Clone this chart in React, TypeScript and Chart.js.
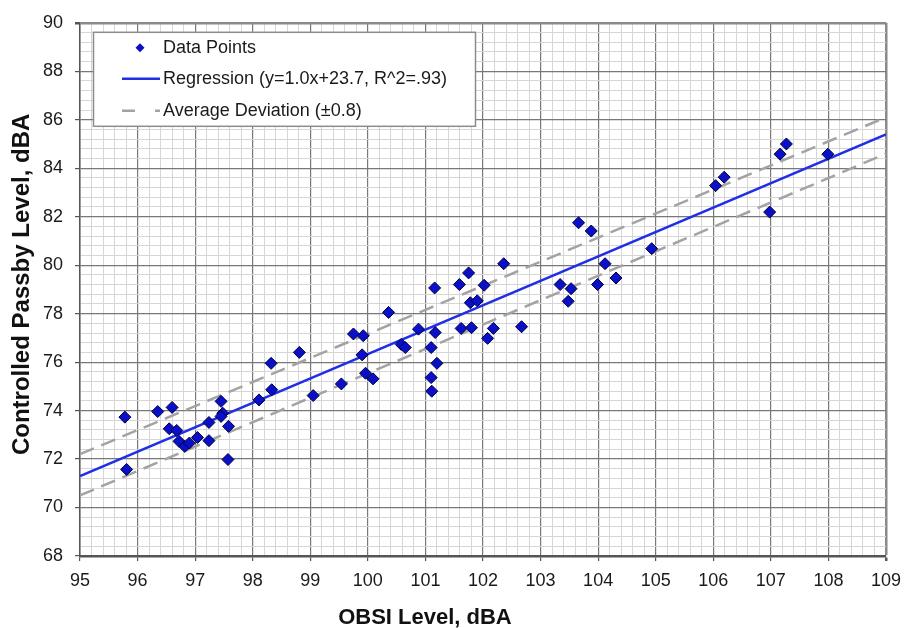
import React, { useEffect, useRef } from "react";
import { Chart, registerables } from "chart.js";

Chart.register(...registerables);

// ---- data ----
const obsiLevel = [
  95.78, 95.81, 96.35, 96.6, 96.55, 96.68, 96.72, 96.82, 96.9, 97.04,
  97.24, 97.24, 97.45, 97.48, 97.45, 97.58, 97.57, 98.11, 98.33, 98.32,
  98.81, 99.05, 99.54, 99.75, 99.92, 99.9, 99.96, 100.09, 100.36, 100.88,
  100.58, 100.65, 101.16, 101.1, 101.1, 101.11, 101.17, 101.2, 101.59, 101.75,
  102.02, 101.78, 101.9, 101.62, 101.8, 102.18, 102.08, 102.36, 102.67, 103.34,
  103.53, 103.48, 103.99, 104.12, 104.31, 103.66, 103.88, 104.93, 106.04, 106.19,
  107.16, 107.27, 107.99, 106.98,
];
const passbyLevel = [
  73.73, 71.57, 73.96, 74.13, 73.25, 73.18, 72.73, 72.52, 72.66, 72.89,
  72.76, 73.51, 74.38, 73.89, 73.76, 73.35, 71.98, 74.44, 74.86, 75.95,
  76.4, 74.62, 75.1, 77.16, 77.09, 76.3, 75.54, 75.31, 78.05, 77.36,
  76.73, 76.6, 79.06, 76.6, 75.36, 74.8, 77.22, 75.95, 79.2, 79.68,
  79.17, 78.45, 78.53, 77.39, 77.42, 77.39, 76.98, 80.06, 77.46, 79.2,
  79.03, 78.51, 79.2, 80.06, 79.47, 81.75, 81.41, 80.68, 83.28, 83.63,
  84.58, 85.0, 84.58, 82.19,
];
const regressionX = [95, 109];
const regressionY = [71.3, 85.4];
const upperDeviationY = [72.2, 86.1];
const lowerDeviationY = [70.5, 84.6];

const xRange = [95, 109];
const yRange = [68, 90];
const xMinorStep = 0.2;
const yMinorStep = 0.4;
const yLabelEvery = 2;

const legendLabels = [
  "Data Points",
  "Regression (y=1.0x+23.7, R^2=.93)",
  "Average Deviation (\u00b10.8)",
];
const xTitle = "OBSI Level, dBA";
const yTitle = "Controlled Passby Level, dBA";

// ---- styles ----
const FONT = "'Liberation Sans', Arial, sans-serif";
const POINT_FILL = "#0a10c8";
const POINT_BORDER = "#00003c";
const REG_COLOR = "#1f2fe6";
const DEV_COLOR = "#a3a3a3";
const MAJOR_GRID = "#787878";
const MINOR_GRID = "#d6d6d6";

const near = (v: number, t: number) => Math.abs(v - t) < 1e-6;
const isMajorX = (v: number | undefined) =>
  v !== undefined && near(v, Math.round(v));
const isMajorY = (v: number | undefined) =>
  v !== undefined && near(v / yLabelEvery, Math.round(v / yLabelEvery));

const toPts = (xs: number[], ys: number[]) =>
  xs.map((x, i) => ({ x, y: ys[i] }));

const overlayPlugin = {
  id: "overlay",
  afterDraw(chart: any) {
    const ctx: CanvasRenderingContext2D = chart.ctx;
    const a = chart.chartArea;
    ctx.save();

    // legend box
    const bx = a.left + 13;
    const by = a.top + 9;
    const bw = 383;
    const bh = 95;
    ctx.fillStyle = "#ffffff";
    ctx.fillRect(bx, by, bw, bh);
    ctx.strokeStyle = "#8c8c8c";
    ctx.lineWidth = 1.5;
    ctx.strokeRect(bx + 0.5, by + 0.5, bw - 1, bh - 1);

    ctx.font = `18px ${FONT}`;
    ctx.fillStyle = "#1a1a1a";
    ctx.textBaseline = "middle";
    ctx.textAlign = "left";
    const tx = bx + 70;
    const rows = [by + 16, by + 47, by + 79];

    // diamond
    const dx = bx + 47;
    const dy = rows[0];
    ctx.beginPath();
    ctx.moveTo(dx, dy - 4.5);
    ctx.lineTo(dx + 4.5, dy);
    ctx.lineTo(dx, dy + 4.5);
    ctx.lineTo(dx - 4.5, dy);
    ctx.closePath();
    ctx.fillStyle = POINT_FILL;
    ctx.fill();
    ctx.fillStyle = "#1a1a1a";
    ctx.fillText(legendLabels[0], tx, rows[0]);

    // regression sample
    ctx.strokeStyle = REG_COLOR;
    ctx.lineWidth = 2.5;
    ctx.beginPath();
    ctx.moveTo(bx + 29, rows[1]);
    ctx.lineTo(bx + 67, rows[1]);
    ctx.stroke();
    ctx.fillText(legendLabels[1], tx, rows[1]);

    // deviation sample
    ctx.strokeStyle = DEV_COLOR;
    ctx.setLineDash([13, 20]);
    ctx.beginPath();
    ctx.moveTo(bx + 29, rows[2]);
    ctx.lineTo(bx + 67, rows[2]);
    ctx.stroke();
    ctx.setLineDash([]);
    ctx.fillText(legendLabels[2], tx, rows[2]);

    // axis titles
    ctx.font = `bold 22px ${FONT}`;
    ctx.fillStyle = "#111111";
    ctx.textAlign = "center";
    ctx.fillText(xTitle, a.left + (a.right - a.left) * 0.428, 618);

    ctx.font = `bold 24px ${FONT}`;
    ctx.translate(22, (a.top + a.bottom) / 2 - 5);
    ctx.rotate(-Math.PI / 2);
    ctx.fillText(yTitle, 0, 0);

    ctx.restore();
  },
};

export default function App() {
  const ref = useRef<HTMLCanvasElement | null>(null);

  useEffect(() => {
    if (!ref.current) return;
    const chart = new Chart(ref.current, {
      type: "scatter",
      data: {
        datasets: [
          {
            label: legendLabels[0],
            data: toPts(obsiLevel, passbyLevel),
            pointStyle: "rectRot",
            pointRadius: 6,
            pointBackgroundColor: POINT_FILL,
            pointBorderColor: POINT_BORDER,
            pointBorderWidth: 1,
            showLine: false,
          },
          {
            label: legendLabels[1],
            data: toPts(regressionX, regressionY),
            showLine: true,
            pointRadius: 0,
            borderColor: REG_COLOR,
            borderWidth: 2.5,
          },
          {
            label: legendLabels[2],
            data: toPts(regressionX, upperDeviationY),
            showLine: true,
            pointRadius: 0,
            borderColor: DEV_COLOR,
            borderWidth: 2.5,
            borderDash: [15, 8],
          },
          {
            label: legendLabels[2] + " lower",
            data: toPts(regressionX, lowerDeviationY),
            showLine: true,
            pointRadius: 0,
            borderColor: DEV_COLOR,
            borderWidth: 2.5,
            borderDash: [15, 8],
          },
        ],
      },
      options: {
        responsive: false,
        animation: false,
        devicePixelRatio: 1,
        layout: { padding: { top: 20, right: 20, left: 0, bottom: 0 } },
        plugins: {
          legend: { display: false },
          tooltip: { enabled: false },
        },
        scales: {
          x: {
            type: "linear",
            min: xRange[0],
            max: xRange[1],
            afterFit: (s: any) => {
              s.height = 72;
            },
            ticks: {
              stepSize: xMinorStep,
              autoSkip: false,
              maxRotation: 0,
              padding: 9,
              color: "#1a1a1a",
              font: { family: FONT, size: 18 },
              callback: (v: any) => (isMajorX(Number(v)) ? String(Math.round(Number(v))) : ""),
            },
            grid: {
              color: (c: any) =>
                isMajorX(c.tick?.value) ? (near(c.tick.value, xRange[1]) ? "#8a8a8a" : MAJOR_GRID) : MINOR_GRID,
              lineWidth: (c: any) =>
                isMajorX(c.tick?.value) ? (near(c.tick.value, xRange[1]) ? 2.5 : 1.2) : 1,
              tickColor: (c: any) => (isMajorX(c.tick?.value) ? "#555555" : "rgba(0,0,0,0)"),
              tickLength: 5,
            },
            border: { color: "#555555", width: 2.5 },
          },
          y: {
            type: "linear",
            min: yRange[0],
            max: yRange[1],
            afterFit: (s: any) => {
              s.width = 80;
            },
            ticks: {
              stepSize: yMinorStep,
              autoSkip: false,
              padding: 12,
              color: "#1a1a1a",
              font: { family: FONT, size: 18 },
              callback: (v: any) => (isMajorY(Number(v)) ? String(Math.round(Number(v))) : ""),
            },
            grid: {
              color: (c: any) =>
                isMajorY(c.tick?.value) ? (near(c.tick.value, yRange[1]) ? "#8a8a8a" : MAJOR_GRID) : MINOR_GRID,
              lineWidth: (c: any) =>
                isMajorY(c.tick?.value) ? (near(c.tick.value, yRange[1]) ? 2.5 : 1.2) : 1,
              tickColor: (c: any) => (isMajorY(c.tick?.value) ? "#555555" : "rgba(0,0,0,0)"),
              tickLength: 5,
            },
            border: { color: "#555555", width: 1.5 },
          },
        },
      },
      plugins: [overlayPlugin],
    });
    return () => chart.destroy();
  }, []);

  return (
    <div style={{ position: "absolute", left: 0, top: 0, width: 910, height: 628, background: "#fff" }}>
      <canvas ref={ref} width={910} height={628} style={{ display: "block" }} />
    </div>
  );
}
